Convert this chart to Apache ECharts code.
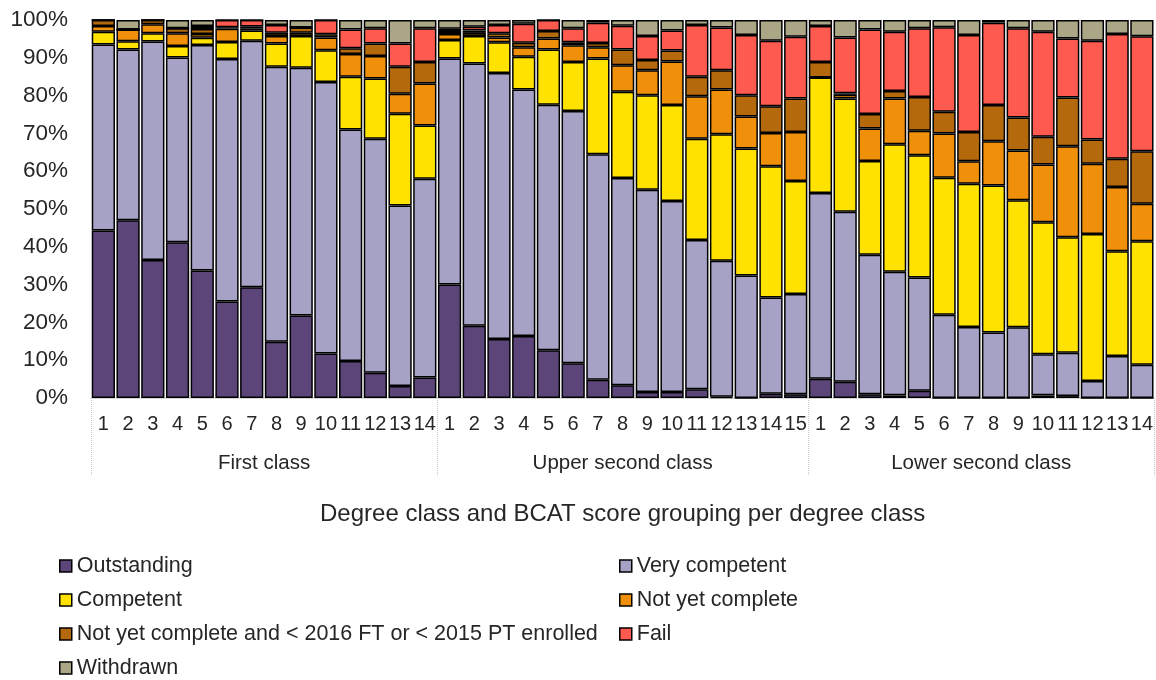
<!DOCTYPE html>
<html>
<head>
<meta charset="utf-8">
<script src="https://cdn.jsdelivr.net/npm/echarts@6/dist/echarts.min.js"></script>
<style>
html,body{margin:0;padding:0;background:#fff;}
#chart{width:1156px;height:680px;}
</style>
</head>
<body>
<div id="chart"></div>
<script>
// Category labels (BCAT score groupings within each degree class)
const firstClassLabels = ['1','2','3','4','5','6','7','8','9','10','11','12','13','14'];
const upperSecondLabels = ['1','2','3','4','5','6','7','8','9','10','11','12','13','14','15'];
const lowerSecondLabels = ['1','2','3','4','5','6','7','8','9','10','11','12','13','14'];
const groupNames = ['First class', 'Upper second class', 'Lower second class'];

// Series values (% of students), in bar order: First class 1-14, Upper second 1-15, Lower second 1-14
const outstanding = [
  44.3, 47.0, 36.5, 41.2, 33.7, 25.5, 29.3, 14.9, 21.8, 11.8, 9.8, 6.7, 3.2, 5.4,
  30.0, 19.1, 15.6, 16.4, 12.6, 9.2, 4.8, 3.4, 1.6, 1.6, 2.3, 0.3, 0, 1.1, 1.0,
  5.1, 4.3, 1.0, 0.7, 1.9, 0, 0, 0, 0, 0.7, 0.5, 0, 0, 0
];
const veryCompetent = [
  49.2, 45.2, 57.8, 48.9, 59.7, 64.2, 65.2, 72.7, 65.6, 71.8, 61.2, 61.9, 47.7, 52.6,
  59.8, 69.4, 70.4, 65.2, 65.0, 66.7, 59.7, 54.8, 53.5, 50.5, 39.5, 36.0, 32.4, 25.5, 26.5,
  49.1, 45.0, 36.9, 32.7, 30.0, 22.0, 18.8, 17.3, 18.7, 10.9, 11.5, 4.5, 11.1, 8.8
];
const competent = [
  3.4, 2.2, 2.2, 3.0, 1.9, 4.5, 2.7, 6.2, 8.4, 8.4, 14.0, 15.9, 24.3, 14.1,
  4.9, 7.3, 8.1, 8.7, 14.6, 13.0, 25.3, 22.8, 25.0, 25.4, 26.8, 33.5, 33.6, 34.7, 29.9,
  30.6, 29.9, 24.8, 33.7, 32.3, 36.3, 37.9, 38.9, 33.6, 34.9, 30.5, 38.9, 27.7, 32.7
];
const notYetComplete = [
  1.5, 3.1, 2.4, 3.4, 1.0, 3.5, 0.5, 2.0, 0.8, 3.4, 6.0, 6.0, 5.3, 11.1,
  1.6, 0.8, 1.3, 2.5, 2.9, 4.4, 3.0, 7.0, 6.6, 11.5, 11.2, 11.8, 8.5, 8.8, 13.0,
  0, 1.0, 8.6, 12.1, 6.5, 11.7, 5.9, 11.7, 13.2, 15.3, 24.1, 18.6, 17.0, 9.9
];
const notYetCompleteEarly = [
  1.6, 0, 1.1, 1.3, 1.3, 0.4, 0.6, 0.8, 1.4, 0.8, 1.5, 3.3, 7.1, 5.7,
  0.8, 0.6, 1.1, 1.2, 2.0, 0.8, 1.1, 4.2, 2.7, 2.9, 5.2, 5.1, 5.6, 7.1, 8.8,
  4.1, 0.4, 3.8, 2.0, 8.9, 5.7, 7.8, 9.6, 8.7, 7.3, 12.9, 6.4, 7.5, 13.9
];
const fail = [
  0, 0, 0, 0, 0.8, 1.9, 1.7, 2.1, 0, 3.8, 5.0, 4.0, 6.2, 8.9,
  0.6, 1.0, 2.2, 5.0, 2.9, 3.7, 5.4, 6.3, 6.4, 5.3, 13.7, 11.3, 15.9, 17.3, 16.4,
  9.5, 14.8, 22.4, 15.7, 18.2, 22.4, 25.6, 21.8, 23.6, 27.8, 15.6, 26.1, 33.0, 30.4
];
const withdrawn = [
  0, 2.5, 0, 2.2, 1.6, 0, 0, 1.3, 2.0, 0, 2.5, 2.2, 6.2, 2.2,
  2.3, 1.8, 1.3, 1.0, 0, 2.2, 0.7, 1.5, 4.2, 2.8, 1.3, 2.0, 4.0, 5.5, 4.4,
  1.6, 4.6, 2.5, 3.1, 2.2, 1.9, 4.0, 0.7, 2.2, 3.1, 4.9, 5.5, 3.7, 4.3
];
const yTickLabels = ['0%','10%','20%','30%','40%','50%','60%','70%','80%','90%','100%'];

const categories = firstClassLabels.concat(upperSecondLabels, lowerSecondLabels);
const n1 = firstClassLabels.length, n2 = upperSecondLabels.length, n3 = lowerSecondLabels.length;
const total = n1 + n2 + n3;
const groupBounds = [0, n1, n1 + n2, total];
const groupCenters = [n1 / 2, n1 + n2 / 2, n1 + n2 + n3 / 2];

const FONT = "'Liberation Sans', Arial, sans-serif";
const TXT = '#262626';

const seriesDefs = [
  ['Outstanding', outstanding, '#5B4579'],
  ['Very competent', veryCompetent, '#A6A2C6'],
  ['Competent', competent, '#FFE200'],
  ['Not yet complete', notYetComplete, '#F0900A'],
  ['Not yet complete and < 2016 FT or < 2015 PT enrolled', notYetCompleteEarly, '#B4690C'],
  ['Fail', fail, '#FF5A4F'],
  ['Withdrawn', withdrawn, '#AAA686']
];

const chart = echarts.init(document.getElementById('chart'), null, {renderer: 'canvas'});

const legendCommon = {
  orient: 'vertical',
  icon: 'rect',
  itemWidth: 12,
  itemHeight: 12,
  itemGap: 12,
  padding: 0,
  height: 125,
  selectedMode: false,
  itemStyle: {borderColor: '#000', borderWidth: 1.5},
  textStyle: {fontFamily: FONT, fontSize: 21.5, color: TXT, lineHeight: 21}
};

chart.setOption({
  animation: false,
  backgroundColor: '#fff',
  textStyle: {fontFamily: FONT},
  grid: {left: 91, right: 1, top: 20, bottom: 282, containLabel: false},
  legend: [
    Object.assign({}, legendCommon, {left: 59, top: 555,
      data: ['Outstanding', 'Competent', 'Not yet complete and < 2016 FT or < 2015 PT enrolled', 'Withdrawn']}),
    Object.assign({}, legendCommon, {left: 619, top: 555,
      data: ['Very competent', 'Not yet complete', 'Fail']})
  ],
  xAxis: [
    {
      type: 'category',
      data: categories,
      position: 'bottom',
      axisLine: {show: true, lineStyle: {color: '#d0d0d0', width: 1, type: 'dotted'}},
      axisTick: {show: false},
      axisLabel: {interval: 0, fontFamily: FONT, fontSize: 20, color: TXT, margin: 16},
      splitLine: {show: false}
    },
    {
      type: 'value',
      min: 0,
      max: total,
      position: 'bottom',
      axisLine: {show: false},
      splitLine: {show: false},
      axisTick: {show: true, customValues: groupBounds, length: 77,
        lineStyle: {color: '#c8c8c8', width: 1, type: 'dotted'}},
      axisLabel: {
        customValues: groupCenters,
        fontFamily: FONT, fontSize: 20.5, color: TXT, margin: 55,
        formatter: function (v) {
          const i = groupCenters.indexOf(v);
          return i >= 0 ? groupNames[i] : '';
        }
      },
      name: 'Degree class and BCAT score grouping per degree class',
      nameLocation: 'middle',
      nameGap: 104,
      nameTextStyle: {fontFamily: FONT, fontSize: 24, color: TXT}
    }
  ],
  yAxis: {
    type: 'value',
    min: 0,
    max: 100,
    interval: 10,
    axisLine: {show: false},
    axisTick: {show: false},
    splitLine: {show: false},
    axisLabel: {
      fontFamily: FONT, fontSize: 22.5, color: TXT, margin: 23,
      formatter: function (v) { return yTickLabels[Math.round(v / 10)]; }
    }
  },
  series: seriesDefs.map(function (d) {
    return {
      name: d[0],
      type: 'bar',
      stack: 'total',
      xAxisIndex: 0,
      data: d[1],
      barCategoryGap: '6%',
      itemStyle: {color: d[2], borderColor: '#000', borderWidth: 1.5},
      emphasis: {disabled: true}
    };
  })
});
</script>
</body>
</html>
